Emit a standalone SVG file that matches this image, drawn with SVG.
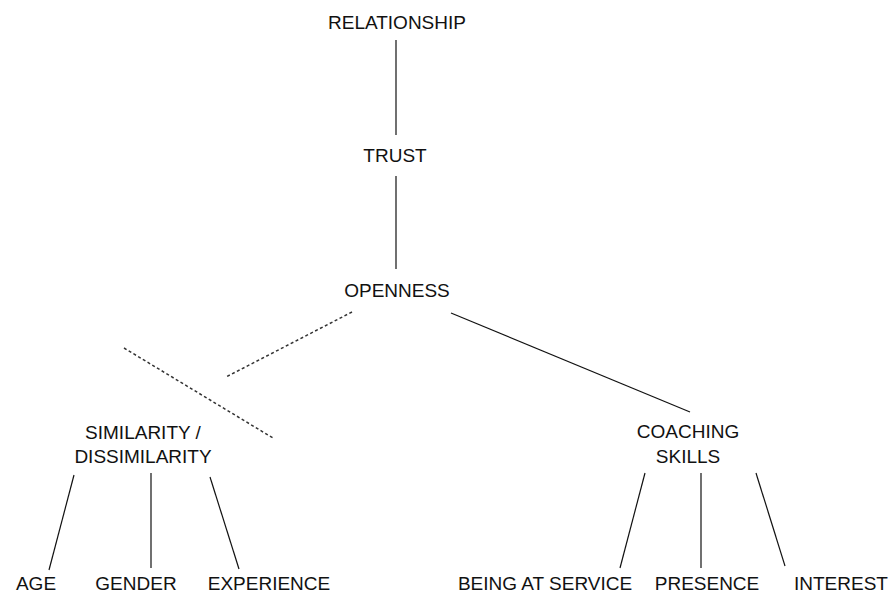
<svg xmlns="http://www.w3.org/2000/svg" width="893" height="595" viewBox="0 0 893 595">
  <style>
    text { font-family: "Liberation Sans", Arial, sans-serif; font-size: 19px; fill: #111; text-anchor: middle; }
    .link { stroke: #111; stroke-width: 1.2; fill: none; }
    .dash { stroke: #333; stroke-width: 1.5; fill: none; stroke-dasharray: 3 2.5; }
  </style>
  <rect width="893" height="595" fill="#fff"/>

  <g id="connectors">
    <line class="link" x1="396" y1="40" x2="396" y2="135"/>
    <line class="link" x1="396" y1="176" x2="396" y2="269"/>
    <line class="dash" x1="352" y1="312" x2="226" y2="377"/>
    <line class="dash" x1="124" y1="348" x2="273" y2="438"/>
    <line class="link" x1="451" y1="313" x2="690" y2="412"/>
    <line class="link" x1="74" y1="475" x2="49" y2="570"/>
    <line class="link" x1="151" y1="473" x2="151" y2="568"/>
    <line class="link" x1="210" y1="477" x2="239" y2="569"/>
    <line class="link" x1="645" y1="473" x2="620" y2="568"/>
    <line class="link" x1="701" y1="473" x2="701" y2="568"/>
    <line class="link" x1="756" y1="473" x2="785" y2="566"/>
  </g>

  <g id="relationship"><text x="397" y="29">RELATIONSHIP</text></g>
  <g id="trust"><text x="395" y="162">TRUST</text></g>
  <g id="openness"><text x="397" y="297">OPENNESS</text></g>
  <g id="similarity"><text x="143" y="439">SIMILARITY /</text><text x="143" y="463">DISSIMILARITY</text></g>
  <g id="coaching-skills"><text x="688" y="438">COACHING</text><text x="688" y="463">SKILLS</text></g>
  <g id="age"><text x="36" y="590">AGE</text></g>
  <g id="gender"><text x="136" y="590">GENDER</text></g>
  <g id="experience"><text x="269" y="590">EXPERIENCE</text></g>
  <g id="being-at-service"><text x="545" y="590">BEING AT SERVICE</text></g>
  <g id="presence"><text x="707" y="590">PRESENCE</text></g>
  <g id="interest"><text x="841" y="590">INTEREST</text></g>
</svg>
